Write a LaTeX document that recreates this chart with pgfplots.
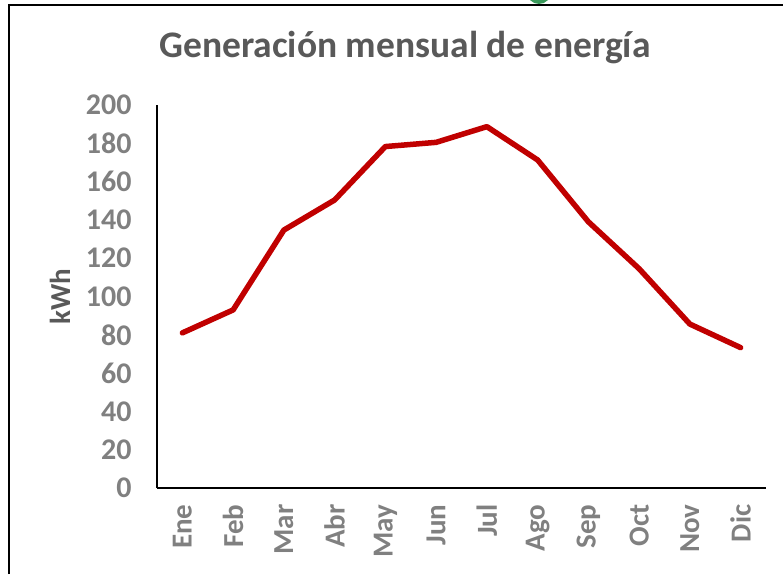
\documentclass[border=0pt]{standalone}
\usepackage{fontspec}
\setmainfont{Carlito}
\usepackage{pgfplots}
\pgfplotsset{compat=1.18}
\definecolor{linered}{HTML}{C00000}
\definecolor{tickgray}{HTML}{808080}
\definecolor{titlegray}{HTML}{595959}
\definecolor{dotgreen}{HTML}{3A9A5B}
\begin{document}
\begin{tikzpicture}[x=1pt,y=1pt]
\useasboundingbox (-157,-86) rectangle (626,488);
\begin{scope}
\clip (-157,-86) rectangle (626,488);
\fill[dotgreen] (382,496) circle (12);
\end{scope}
\draw[line width=2pt,black] (-148,-86) -- (-148,483) -- (626,483);
\begin{axis}[
  at={(0,0)}, anchor=south west,
  scale only axis,
  width=609pt, height=383pt,
  xmin=-0.5, xmax=11.5, ymin=0, ymax=200,
  axis x line=bottom, axis y line=left,
  axis line style={line width=1.2pt, black, -},
  xtick={0,...,11},
  xticklabels={Ene,Feb,Mar,Abr,May,Jun,Jul,Ago,Sep,Oct,Nov,Dic},
  ytick={0,20,...,200},
  major tick length=0pt,
  /pgf/number format/assume math mode=true,
  yticklabel style={font=\fontsize{30}{30}\selectfont\bfseries, text=tickgray, xshift=-22pt},
  xticklabel style={font=\fontsize{29}{29}\selectfont\bfseries, text=tickgray, rotate=90, anchor=east, xshift=-13pt},
  clip=false,
]
\addplot[linered, line width=5.5pt, line join=round, line cap=round] coordinates {
(0,81) (1,93) (2,134.7) (3,150.4) (4,178.3) (5,180.5) (6,188.7) (7,171.3) (8,139) (9,114.5) (10,85.6) (11,73.3)
};
\end{axis}
\node[font=\fontsize{37.5}{37.5}\selectfont\bfseries, text=titlegray] at (248,440) {Generación mensual de energía};
\node[font=\fontsize{29}{29}\selectfont\bfseries, text=titlegray, rotate=90] at (-97,191) {kWh};
\end{tikzpicture}
\end{document}
